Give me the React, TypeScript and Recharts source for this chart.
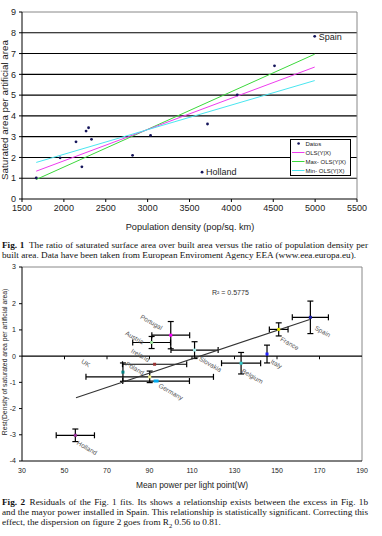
import React from 'react'
import {
  ScatterChart,
  Scatter,
  XAxis,
  YAxis,
  ReferenceLine,
  ErrorBar,
  Legend,
  Label,
} from 'recharts'

const SANS = '"Liberation Sans", Arial, sans-serif'
const SERIF = '"Liberation Serif", "Times New Roman", serif'

// ---- Fig. 1 data ----
const DENSITY_TICKS = [1500, 2000, 2500, 3000, 3500, 4000, 4500, 5000, 5500]
const RATIO_TICKS = [0, 1, 2, 3, 4, 5, 6, 7, 8, 9]
const density = [1670, 1955, 2145, 2215, 2265, 2295, 2330, 2820, 3035, 3650, 3715, 4070, 4515, 4995]
const ratio = [1.01, 1.98, 2.75, 1.55, 3.27, 3.43, 2.87, 2.1, 3.06, 1.29, 3.61, 5.01, 6.41, 7.83]
const pointNames = ['', '', '', '', '', '', '', '', '', 'Holland', '', '', '', 'Spain']
const fitX = [1670, 4995]
const olsY = [1.34, 6.35]
const maxY = [0.94, 6.97]
const minY = [1.76, 5.7]
const SERIES_NAMES = ['Datos', 'OLS(Y|X)', 'Max- OLS(Y|X)', 'Min- OLS(Y|X)']

// ---- Fig. 2 data ----
const POWER_TICKS = [30, 50, 70, 90, 110, 130, 150, 170, 190]
const RESID_TOP = 3.4
const RESID_TICKS = [-4, -3, -2, -1, 0, 1, 2, RESID_TOP]
const countries = ['Spain', 'France', 'Italy', 'Belgium', 'Slovakia', 'Portugal', 'Austria', 'Ireland', 'Poland', 'UK', 'Germany', 'Holland']
const power = [165.7, 150.8, 145.3, 133.1, 111.2, 100.0, 91.0, 92.4, 77.5, 90.1, 93.1, 55.1]
const powerErr = [8.5, 4.4, 0, 9.2, 11.1, 8.9, 8.9, 15.1, 0, 30, 15.7, 9.0]
const resid = [1.48, 1.02, 0.08, -0.27, 0.23, 0.8, 0.52, -0.31, -0.61, -0.79, -0.95, -3.02]
const residErr = [0.62, 0.25, 0.34, 0.41, 0.32, 0.52, 0.23, 0, 0.35, 0.22, 0, 0.24]
const residFitX = [55.4, 165.4]
const residFitY = [-1.59, 1.4]

// styles
const FIT_COLORS = ['#ee3cee', '#3cd83c', '#4ae6f0']
const MARK_COLOR: Record<string, string> = {
  Spain: '#1c1ca8', France: '#e6e600', Italy: '#2020ff', Belgium: '#33cccc',
  Slovakia: '#aaeeee', Portugal: '#ff00ff', Austria: '#99dd99', Ireland: '#993333',
  Poland: '#008080', UK: '#eeee88', Germany: '#00aaee', Holland: '#993399',
}
const LABEL_OFFSET: Record<string, [number, number]> = {
  Spain: [4, 12], France: [1, 11], Italy: [3, 9], Belgium: [0, 9], Slovakia: [4, 10],
  Portugal: [-31, -17], Austria: [-27, -8], Ireland: [-24, -12], Poland: [2, -7],
  UK: [-69, -14], Germany: [2, 6], Holland: [1, 9],
}

const fig1Points = density.map((x, i) => ({ x, y: ratio[i], name: pointNames[i] }))
const fitLine = (ys: number[]) => fitX.map((x, i) => ({ x, y: ys[i] }))
const fig2Points = countries.map((name, i) => ({
  name, x: power[i], y: resid[i], ex: powerErr[i], ey: residErr[i],
}))
const fig2Fit = residFitX.map((x, i) => ({ x, y: residFitY[i] }))

const NoDot = () => <g />

function DensityDot(props: any) {
  const { cx, cy, payload } = props
  return (
    <g>
      <circle cx={cx} cy={cy} r={1.4} fill="#14145a" />
      {payload.name ? (
        <text x={cx + 4} y={cy + 3.2} fontSize={9} fontFamily={SANS} fill="#222">
          {payload.name}
        </text>
      ) : null}
    </g>
  )
}

function CountryMark(props: any) {
  const { cx, cy, payload } = props
  const w = payload.name === 'Germany' ? 5 : 3
  const [dx, dy] = LABEL_OFFSET[payload.name] || [3, 6]
  const lx = cx + dx
  const ly = cy + dy
  return (
    <g>
      <rect x={cx - w / 2} y={cy - 1.5} width={w} height={3} fill={MARK_COLOR[payload.name]} />
      <text x={lx} y={ly} transform={`rotate(30 ${lx} ${ly})`} fontSize={6.5} fontFamily={SANS} fill="#555">
        {payload.name}
      </text>
    </g>
  )
}

function Fig1Legend() {
  return (
    <svg width={61} height={37} style={{ display: 'block' }}>
      <rect x={0.5} y={0.5} width={60} height={36} fill="#fff" stroke="#000" />
      {SERIES_NAMES.map((name, i) => {
        const cy = 4.5 + i * 9
        return (
          <g key={name}>
            {i === 0 ? (
              <circle cx={8.6} cy={cy} r={1.3} fill="#14145a" />
            ) : (
              <line x1={2} x2={14.5} y1={cy} y2={cy} stroke={FIT_COLORS[i - 1]} strokeWidth={1} />
            )}
            <text x={15.5} y={cy + 2.1} fontSize={6} fontFamily={SANS} fill="#222">
              {name}
            </text>
          </g>
        )
      })}
    </svg>
  )
}

const title = (text: string, x: number, y: number, size: number, vertical = false) => () => (
  <text
    x={x}
    y={y}
    transform={vertical ? `rotate(-90 ${x} ${y})` : undefined}
    textAnchor="middle"
    dominantBaseline="central"
    fontSize={size}
    fontFamily={SANS}
    fill="#222"
  >
    {text}
  </text>
)

function DensityChart() {
  return (
    <ScatterChart width={382} height={236} margin={{ top: 12, right: 25, bottom: 0, left: 0 }}>
      <XAxis
        type="number"
        dataKey="x"
        domain={[1500, 5500]}
        ticks={DENSITY_TICKS}
        allowDataOverflow
        height={37}
        tickSize={3}
        tickMargin={3}
        stroke="#000"
        tick={{ fontSize: 9, fontFamily: SANS, fill: '#222' }}
      >
        <Label content={title('Population density (pop/sq. km)', 190, 227, 9.2)} />
      </XAxis>
      <YAxis
        type="number"
        dataKey="y"
        domain={[0, 9]}
        ticks={RATIO_TICKS}
        interval={0}
        allowDataOverflow
        width={22}
        tickSize={3}
        tickMargin={3}
        stroke="#000"
        tick={{ fontSize: 9, fontFamily: SANS, fill: '#222' }}
      >
        <Label content={title('Saturated area per artificial area', 4.5, 110, 9.8, true)} />
      </YAxis>
      {RATIO_TICKS.slice(1, -1).map((t) => (
        <ReferenceLine key={t} y={t} stroke="#000" strokeWidth={1.1} />
      ))}
      <ReferenceLine y={9} stroke="#888" />
      <ReferenceLine x={5500} stroke="#888" />
      <Scatter name={SERIES_NAMES[2]} data={fitLine(maxY)} line={{ stroke: FIT_COLORS[1], strokeWidth: 1 }} shape={NoDot} isAnimationActive={false} />
      <Scatter name={SERIES_NAMES[1]} data={fitLine(olsY)} line={{ stroke: FIT_COLORS[0], strokeWidth: 1 }} shape={NoDot} isAnimationActive={false} />
      <Scatter name={SERIES_NAMES[3]} data={fitLine(minY)} line={{ stroke: FIT_COLORS[2], strokeWidth: 1 }} shape={NoDot} isAnimationActive={false} />
      <Scatter name={SERIES_NAMES[0]} data={fig1Points} shape={DensityDot} isAnimationActive={false} />
      <Legend
        layout="vertical"
        align="center"
        verticalAlign="middle"
        wrapperStyle={{ left: 290, top: 139, width: 61, height: 37 }}
        content={() => <Fig1Legend />}
      />
    </ScatterChart>
  )
}

function ResidualChart() {
  return (
    <ScatterChart width={382} height={240} margin={{ top: 9, right: 20, bottom: 0, left: 0 }}>
      <XAxis
        type="number"
        dataKey="x"
        domain={[30, 190]}
        ticks={POWER_TICKS}
        allowDataOverflow
        height={37}
        tickLine={false}
        tickSize={0}
        tickMargin={7}
        stroke="#000"
        tick={{ fontSize: 7, fontFamily: SANS, fill: '#222' }}
      >
        <Label content={title('Mean power per light point(W)', 192, 227, 8.4)} />
      </XAxis>
      <YAxis
        type="number"
        dataKey="y"
        domain={[-4, RESID_TOP]}
        ticks={RESID_TICKS}
        interval={0}
        allowDataOverflow
        width={22}
        tickSize={3}
        tickMargin={3}
        stroke="#000"
        tickFormatter={(v: number) => (v > 2 ? '3' : String(v))}
        tick={{ fontSize: 7, fontFamily: SANS, fill: '#222' }}
      >
        <Label content={title('Rest(Density of saturated area per artificial area)', 4, 104, 6.8, true)} />
      </YAxis>
      <ReferenceLine y={RESID_TOP} stroke="#888" />
      <ReferenceLine x={190} stroke="#888" />
      <ReferenceLine y={0} stroke="#000" strokeWidth={1.1} />
      {POWER_TICKS.slice(1, -1).map((t) => (
        <ReferenceLine key={t} segment={[{ x: t, y: 0 }, { x: t, y: -0.12 }]} stroke="#000" />
      ))}
      <Scatter data={fig2Fit} line={{ stroke: '#333', strokeWidth: 1.1 }} shape={NoDot} isAnimationActive={false} />
      <Scatter data={fig2Points} shape={CountryMark} isAnimationActive={false}>
        <ErrorBar dataKey="ex" direction="x" width={3} stroke="#000" strokeWidth={1.2} isAnimationActive={false} />
        <ErrorBar dataKey="ey" direction="y" width={3} stroke="#000" strokeWidth={1.2} isAnimationActive={false} />
      </Scatter>
    </ScatterChart>
  )
}

const capStyle = (top: number, justify: boolean): React.CSSProperties => ({
  position: 'absolute',
  left: 2,
  top,
  width: 366,
  fontFamily: SERIF,
  fontSize: 9.2,
  lineHeight: '10px',
  color: '#111',
  textAlign: justify ? 'justify' : 'left',
  textAlignLast: justify ? 'justify' : 'left',
})

export default function App() {
  return (
    <div style={{ position: 'absolute', left: 0, top: 0, width: 382, height: 536, background: '#fff', overflow: 'hidden' }}>
      <div style={{ position: 'absolute', left: 0, top: 0 }}>
        <DensityChart />
      </div>
      <div style={capStyle(240, true)}>
        <b>Fig. 1</b>&ensp;The ratio of saturated surface area over built area versus the ratio of population density per
      </div>
      <div style={capStyle(250.3, false)}>
        built area. Data have been taken from European Enviroment Agency EEA (www.eea.europa.eu).
      </div>
      <div style={{ position: 'absolute', left: 0, top: 258 }}>
        <ResidualChart />
      </div>
      <div style={{ position: 'absolute', left: 212, top: 288, fontFamily: SANS, fontSize: 7, lineHeight: '9px', color: '#333' }}>
        R² = 0.5775
      </div>
      <div style={capStyle(496.5, true)}>
        <b>Fig. 2</b>&ensp;Residuals of the Fig. 1 fits. Its shows a relationship exists between the excess in Fig. 1b
      </div>
      <div style={capStyle(506.7, true)}>
        and the mayor power installed in Spain. This relationship is statistically significant. Correcting this
      </div>
      <div style={capStyle(516.9, false)}>
        effect, the dispersion on figure 2 goes from R<sub style={{ fontSize: 6.5, lineHeight: 0 }}>2</sub> 0.56 to 0.81.
      </div>
    </div>
  )
}
